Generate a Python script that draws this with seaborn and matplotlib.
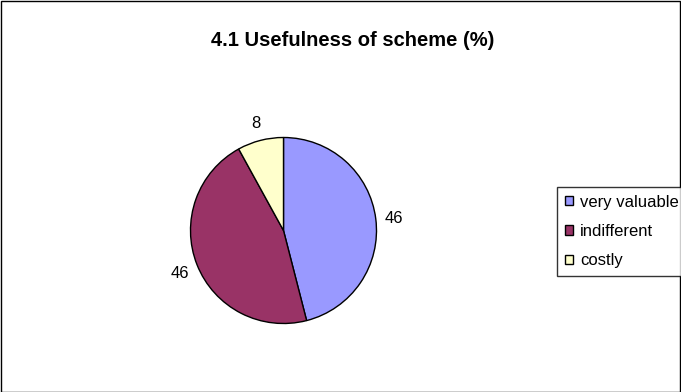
import matplotlib
matplotlib.use("Agg")
import matplotlib.pyplot as plt
from matplotlib.patches import Rectangle
import seaborn as sns

# data
categories = ["very valuable", "indifferent", "costly"]
values = [46, 46, 8]
colors = ["#9999FF", "#993366", "#FFFFCC"]
title = "4.1 Usefulness of scheme (%)"

sns.set_theme(style="white")
plt.rcParams["font.family"] = ["Liberation Sans", "DejaVu Sans"]
plt.rcParams["text.color"] = "black"

fig = plt.figure(figsize=(6.81, 3.92), dpi=100)

# square axes so that the pie has a radius of about 93 px
w_px = 186
ax = fig.add_axes([(283.5 - w_px / 2) / 681, (392 - 230.5 - w_px / 2) / 392,
                   w_px / 681, w_px / 392])

wedges, texts = ax.pie(
    values,
    labels=[str(v) for v in values],
    colors=colors,
    startangle=90,
    counterclock=False,
    labeldistance=1.2,
    wedgeprops=dict(edgecolor="black", linewidth=1.0),
    textprops=dict(fontsize=12, color="black"),
)
for t in texts:
    t.set_horizontalalignment("center")
    t.set_verticalalignment("center_baseline")
ax.set_xlim(-1, 1)
ax.set_ylim(-1, 1)
ax.set_aspect("equal")
ax.axis("off")

fig.text(353 / 681, 1 - 46.5 / 392, title, ha="center", va="baseline",
         fontsize=14.5, fontweight="bold", color="black")

leg = fig.legend(
    wedges, categories,
    loc="upper left",
    bbox_to_anchor=(557 / 681, 1 - 187 / 392),
    frameon=True,
    fancybox=False,
    shadow=False,
    fontsize=12,
    handlelength=0.5,
    handleheight=0.5,
    handletextpad=0.45,
    labelspacing=0.87,
    borderpad=0.45,
    borderaxespad=0,
)
leg.get_frame().set_edgecolor("black")
leg.get_frame().set_linewidth(1.0)
for h in leg.legend_handles:
    h.set_linewidth(1.0)
    h.set_edgecolor("black")

# outer chart border
fig.patches.append(Rectangle((0.5 / 681, 0.5 / 392), 679.5 / 681, 390.5 / 392,
                             transform=fig.transFigure, fill=False,
                             edgecolor="black", linewidth=1.0))

fig.savefig("out.png", dpi=100)
